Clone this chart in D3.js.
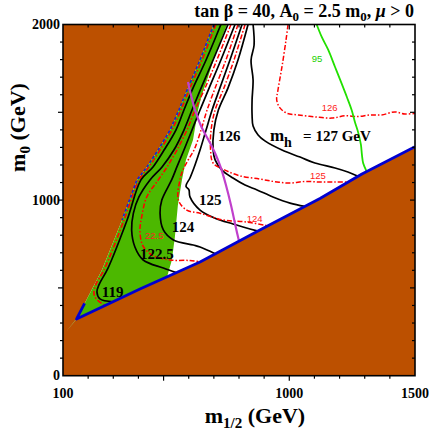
<!DOCTYPE html>
<html>
<head>
<meta charset="utf-8">
<script src="https://cdn.jsdelivr.net/npm/d3@7"></script>
<style>
  body { margin: 0; background: #fff; }
</style>
</head>
<body>
<div id="chart"></div>
<script>
// ---- data (m_1/2, m_0) in GeV ----
const leftEdge = [[700,2000],[645,1798],[597,1638],[561,1513],[526,1399],[478,1285],[434,1189],
  [394,1115],[335,887],[255,602],[156,329],[108,243]];
const lowerEdge = [[108,243],[154,323],[406,494],[645,648],[883,830],[1122,1009],[1289,1149],[1500,1304]];
const greenRight = [[752,2000],[705,1827],[673,1684],[653,1604],[637,1513],[617,1342],[589,1229],
  [573,1115],[557,972],[545,790],[533,659],[514,564]];

// black: m_h contours
const mh119 = [[728,2000],[669,1798],[617,1638],[581,1513],[549,1399],[502,1285],[458,1189],[410,1115],
  [355,887],[279,613],[243,517],[235,477],[247,437],[300,421]];
const mh1225 = [[756,2000],[697,1798],[649,1638],[613,1513],[581,1399],[541,1285],[494,1189],[446,1115],
  [402,1018],[380,926],[373,830],[386,733],[419,659],[499,613],[550,587]];
const mh124 = [[784,2000],[728,1798],[681,1638],[645,1513],[613,1399],[581,1285],[553,1189],[532,1115],
  [493,1000],[486,926],[499,830],[539,773],[618,744],[645,733],[705,695]];
const mh125 = [[812,2000],[764,1798],[724,1638],[693,1513],[669,1399],[645,1285],[625,1200],[605,1126],
  [589,1080],[601,1058],[605,1018],[645,943],[705,897],[776,864],[876,823]];
const mh126 = [[836,2000],[796,1798],[756,1638],[718,1513],[700,1399],[697,1285],[705,1229],[732,1171],
  [776,1126],[824,1086],[872,1058],[935,1018],[1003,983],[1062,964]];
const mh127 = [[856,2000],[860,1883],[848,1798],[856,1684],[852,1570],[852,1485],[856,1422],[876,1371],
  [903,1337],[971,1285],[1043,1245],[1102,1211],[1182,1183],[1233,1160],[1273,1136]];

// red dash-dot: second m_h calculation
const red119 = [[708,2000],[653,1798],[605,1638],[569,1513],[533,1399],[486,1285],[442,1189],[402,1115],
  [343,887],[263,602],[231,520],[223,470],[231,440],[265,400]];
const red1225 = [[768,2000],[712,1798],[665,1638],[625,1513],[593,1399],[553,1285],[514,1189],[479,1115],
  [433,1018],[413,904],[406,824],[418,739],[454,687],[526,659],[605,656],[645,648]];
const red124 = [[796,2000],[748,1798],[705,1638],[673,1513],[649,1399],[621,1285],[598,1229],[577,1171],
  [565,1115],[559,1000],[592,943],[645,925],[736,887],[832,875],[915,853]];
const red125 = [[824,2000],[780,1798],[740,1638],[705,1513],[689,1399],[687,1285],[697,1211],[744,1171],
  [804,1138],[883,1120],[943,1105],[1003,1097],[1062,1106],[1122,1103],[1182,1103],[1237,1103]];
const red126 = [[995,2000],[987,1912],[971,1760],[955,1627],[950,1570],[963,1525],[990,1495],[1036,1485],
  [1102,1474],[1169,1467],[1221,1480],[1274,1476],[1321,1485],[1367,1485],[1420,1502],[1460,1490],[1500,1494]];

const magentaLine = [[597,1673],[609,1599],[625,1513],[649,1422],[685,1325],[708,1257],[728,1183],
  [748,1086],[768,972],[788,841],[800,767]];
const green95 = [[1109,2000],[1130,1926],[1155,1855],[1182,1758],[1208,1665],[1229,1587],[1248,1513],
  [1261,1445],[1275,1380],[1285,1314],[1289,1257],[1294,1210],[1308,1162]];
const blueLine = [[186,412],[156,329]].concat(lowerEdge.slice(1));

// ticks
const xTickLabels = [100, 1000, 1500];
const yTickLabels = [0, 1000, 2000];
const xMinorTicks = [200, 300, 400, 600, 700, 800, 900, 1100, 1200, 1300, 1400];
const xMajorTicks = [500, 1000];
const yMinorTicks = [100, 200, 300, 400, 600, 700, 800, 900, 1100, 1200, 1300, 1400, 1600, 1700, 1800, 1900];
const yMajorTicks = [500, 1000, 1500];

// contour labels
const blackLabels = [["119", 254, 450], ["122.5", 406, 665], ["124", 533, 816], ["125", 641, 972], ["126", 716, 1334]];
const redLabels = [["126", 1129, 1505], ["125", 1082, 1120], ["124", 831, 878], ["22.5", 426, 776]];

const width = 429, height = 436;
const serif = "'Liberation Serif', 'Times New Roman', serif";
const sans = "'Liberation Sans', Arial, sans-serif";

const x = d3.scaleLinear().domain([100, 1500]).range([63, 415]);
const y = d3.scaleLinear().domain([0, 2000]).range([375.7, 24.5]);

const svg = d3.select("#chart").append("svg")
  .attr("width", width)
  .attr("height", height);

svg.append("clipPath").attr("id", "plotclip")
  .append("rect")
  .attr("x", x(100)).attr("y", y(2000))
  .attr("width", x(1500) - x(100)).attr("height", y(0) - y(2000));

const plot = svg.append("g").attr("clip-path", "url(#plotclip)");

const poly = d3.line().x(d => x(d[0])).y(d => y(d[1]));
const smooth = d3.line().x(d => x(d[0])).y(d => y(d[1])).curve(d3.curveCatmullRom.alpha(0.5));

// excluded background
plot.append("rect")
  .attr("x", x(100)).attr("y", y(2000))
  .attr("width", x(1500) - x(100)).attr("height", y(0) - y(2000))
  .attr("fill", "#bc5000");

// allowed region
plot.append("path")
  .attr("d", poly(leftEdge.concat(lowerEdge.slice(1), [[1500, 2000]])) + "Z")
  .attr("fill", "#fff");

// green strip
const greenPoly = leftEdge.concat(lowerEdge.slice(1, 3), greenRight.slice().reverse());
plot.append("path")
  .attr("d", poly(greenPoly) + "Z")
  .attr("fill", "#4cb800");

// edge lines on the left boundary
plot.append("path").attr("d", smooth(red119))
  .attr("fill", "none").attr("stroke", "#ff0000").attr("stroke-width", 1.6)
  .attr("stroke-dasharray", "5,2,1.5,2");
plot.append("path").attr("d", poly(leftEdge.slice(0, 9)))
  .attr("fill", "none").attr("stroke", "#1020e0").attr("stroke-width", 1.5)
  .attr("stroke-dasharray", "3,2");

// black contours
[mh119, mh1225, mh124, mh125, mh126, mh127].forEach(function (c) {
  plot.append("path").attr("d", smooth(c))
    .attr("fill", "none").attr("stroke", "#000").attr("stroke-width", 1.7);
});

// red contours
[red1225, red124, red125, red126].forEach(function (c) {
  plot.append("path").attr("d", smooth(c))
    .attr("fill", "none").attr("stroke", "#ff0000").attr("stroke-width", 1.5)
    .attr("stroke-dasharray", "5,2,1.5,2");
});

plot.append("path").attr("d", smooth(magentaLine))
  .attr("fill", "none").attr("stroke", "#c040cc").attr("stroke-width", 2.2);

plot.append("path").attr("d", smooth(green95))
  .attr("fill", "none").attr("stroke", "#22e000").attr("stroke-width", 1.8);

plot.append("path").attr("d", poly(blueLine))
  .attr("fill", "none").attr("stroke", "#0000d0").attr("stroke-width", 2.8)
  .attr("stroke-linejoin", "round");

// labels on the contours
plot.selectAll(".blab").data(blackLabels).enter().append("text")
  .attr("x", d => x(d[1])).attr("y", d => y(d[2]))
  .attr("font-family", serif).attr("font-weight", "bold").attr("font-size", 15)
  .text(d => d[0]);

plot.selectAll(".rlab").data(redLabels).enter().append("text")
  .attr("x", d => x(d[1])).attr("y", d => y(d[2]))
  .attr("font-family", sans).attr("font-size", 9.5).attr("fill", "#ff2020")
  .text(d => d[0]);

plot.append("text")
  .attr("x", x(1089)).attr("y", y(1788))
  .attr("font-family", sans).attr("font-size", 9.5).attr("fill", "#22d000")
  .text("95");

const mhText = plot.append("text")
  .attr("x", x(923)).attr("y", y(1334))
  .attr("font-family", serif).attr("font-weight", "bold").attr("font-size", 17);
mhText.append("tspan").text("m");
mhText.append("tspan").attr("font-size", 14).attr("dy", 6).text("h");
mhText.append("tspan").attr("font-size", 15).attr("x", x(1055)).attr("dy", -6).text("= 127 GeV");

// frame and ticks
const frame = svg.append("g");
frame.append("rect")
  .attr("x", x(100)).attr("y", y(2000))
  .attr("width", x(1500) - x(100)).attr("height", y(0) - y(2000))
  .attr("fill", "none").attr("stroke", "#000").attr("stroke-width", 1.6);

function ticks(sel, vals, len) {
  vals.forEach(function (v) {
    // bottom (outward) and top (inward)
    sel.append("line").attr("x1", x(v)).attr("x2", x(v)).attr("y1", y(0)).attr("y2", y(0) + len);
    sel.append("line").attr("x1", x(v)).attr("x2", x(v)).attr("y1", y(2000)).attr("y2", y(2000) + len);
  });
}
function yticks(sel, vals, len) {
  vals.forEach(function (v) {
    sel.append("line").attr("y1", y(v)).attr("y2", y(v)).attr("x1", x(100)).attr("x2", x(100) - len);
    sel.append("line").attr("y1", y(v)).attr("y2", y(v)).attr("x1", x(1500)).attr("x2", x(1500) - len);
  });
}
const tk = frame.append("g").attr("stroke", "#000").attr("stroke-width", 1.2);
ticks(tk, xMinorTicks, 3);
ticks(tk, xMajorTicks, 5);
yticks(tk, yMinorTicks, 3);
yticks(tk, yMajorTicks, 5);

frame.selectAll(".xl").data(xTickLabels).enter().append("text")
  .attr("x", d => x(d)).attr("y", 398)
  .attr("text-anchor", "middle")
  .attr("font-family", serif).attr("font-weight", "bold").attr("font-size", 14)
  .text(d => d);

frame.selectAll(".yl").data(yTickLabels).enter().append("text")
  .attr("x", 60).attr("y", d => y(d) + 4.5)
  .attr("text-anchor", "end")
  .attr("font-family", serif).attr("font-weight", "bold").attr("font-size", 14)
  .text(d => d);

// axis titles
const xt = svg.append("text")
  .attr("x", 255).attr("y", 423)
  .attr("text-anchor", "middle")
  .attr("font-family", serif).attr("font-weight", "bold").attr("font-size", 22);
xt.append("tspan").text("m");
xt.append("tspan").attr("font-size", 15).attr("dy", 5).text("1/2");
xt.append("tspan").attr("dy", -5).text(" (GeV)");

const yt = svg.append("text")
  .attr("transform", "translate(25,127.5) rotate(-90)")
  .attr("text-anchor", "middle")
  .attr("font-family", serif).attr("font-weight", "bold").attr("font-size", 22);
yt.append("tspan").text("m");
yt.append("tspan").attr("font-size", 15).attr("dy", 5).text("0");
yt.append("tspan").attr("dy", -5).text(" (GeV)");

// title
const title = svg.append("text")
  .attr("x", 414).attr("y", 17)
  .attr("text-anchor", "end")
  .attr("font-family", serif).attr("font-weight", "bold").attr("font-size", 18);
title.append("tspan").text("tan \u03b2 = 40, A");
title.append("tspan").attr("font-size", 13).attr("dy", 4).text("0");
title.append("tspan").attr("dy", -4).text(" = 2.5 m");
title.append("tspan").attr("font-size", 13).attr("dy", 4).text("0");
title.append("tspan").attr("dy", -4).text(", ");
title.append("tspan").attr("font-style", "italic").text("\u03bc");
title.append("tspan").text(" > 0");
</script>
</body>
</html>
